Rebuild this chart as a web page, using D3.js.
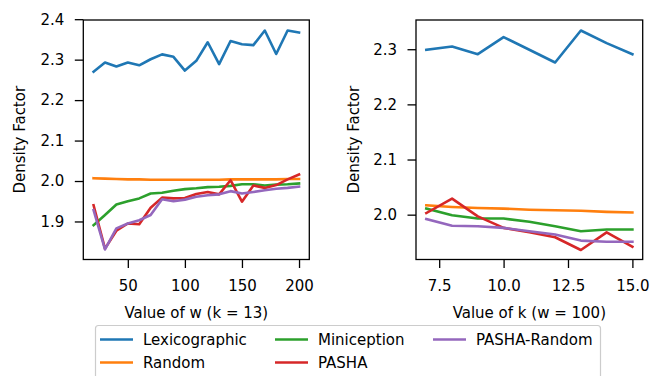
<!DOCTYPE html>
<html>
<head>
<meta charset="utf-8">
<script src="https://cdn.jsdelivr.net/npm/d3@7"></script>
<style>
body { margin: 0; background: #fff; }
svg { font-family: "DejaVu Sans", sans-serif; }
</style>
</head>
<body>
<svg id="chart" width="654" height="376"></svg>
<script>
// ---- data ----
const seriesNames = ["Lexicographic", "Random", "Miniception", "PASHA", "PASHA-Random"];
const colors = ["#1f77b4", "#ff7f0e", "#2ca02c", "#d62728", "#9467bd"];

const wValues = [20, 30, 40, 50, 60, 70, 80, 90, 100, 110, 120, 130, 140, 150, 160, 170, 180, 190, 200];
const wLexicographic = [2.270, 2.293, 2.283, 2.293, 2.286, 2.301, 2.313, 2.307, 2.273, 2.297, 2.343, 2.289, 2.346, 2.338, 2.336, 2.372, 2.314, 2.372, 2.367];
const wRandom = [2.007, 2.006, 2.005, 2.004, 2.004, 2.003, 2.003, 2.003, 2.003, 2.003, 2.003, 2.003, 2.004, 2.004, 2.004, 2.004, 2.004, 2.005, 2.005];
const wMiniception = [1.891, 1.916, 1.942, 1.950, 1.957, 1.969, 1.971, 1.976, 1.980, 1.982, 1.985, 1.986, 1.988, 1.992, 1.992, 1.989, 1.991, 1.992, 1.994];
const wPASHA = [1.940, 1.833, 1.877, 1.895, 1.893, 1.934, 1.959, 1.957, 1.958, 1.968, 1.973, 1.967, 2.002, 1.949, 1.989, 1.983, 1.990, 2.004, 2.016];
const wPASHARandom = [1.928, 1.831, 1.883, 1.895, 1.903, 1.916, 1.955, 1.950, 1.954, 1.961, 1.965, 1.967, 1.975, 1.969, 1.973, 1.977, 1.981, 1.983, 1.986];

const kValues = [7, 8, 9, 10, 11, 12, 13, 14, 15];
const kLexicographic = [2.299, 2.305, 2.291, 2.322, 2.299, 2.276, 2.334, 2.311, 2.291];
const kRandom = [2.017, 2.014, 2.012, 2.011, 2.009, 2.008, 2.007, 2.005, 2.004];
const kMiniception = [2.011, 1.999, 1.993, 1.993, 1.987, 1.979, 1.970, 1.973, 1.973];
const kPASHA = [2.003, 2.029, 1.997, 1.976, 1.968, 1.959, 1.936, 1.968, 1.942];
const kPASHARandom = [1.992, 1.980, 1.979, 1.976, 1.970, 1.964, 1.953, 1.951, 1.951];

const wTicks = [50, 100, 150, 200];
const wYTicks = [1.9, 2.0, 2.1, 2.2, 2.3, 2.4];
const kTicks = [7.5, 10.0, 12.5, 15.0];
const kYTicks = [2.0, 2.1, 2.2, 2.3];

// ---- drawing ----
const svg = d3.select("#chart");
const FS = 15;

function panel(cfg) {
  const x = d3.scaleLinear().domain(cfg.xDomain).range([cfg.left, cfg.right]);
  const y = d3.scaleLinear().domain(cfg.yDomain).range([cfg.bottom, cfg.top]);
  const g = svg.append("g");

  const clipId = "clip" + cfg.id;
  svg.append("clipPath").attr("id", clipId).append("rect")
    .attr("x", cfg.left).attr("y", cfg.top)
    .attr("width", cfg.right - cfg.left).attr("height", cfg.bottom - cfg.top);

  const line = d3.line().x((d, i) => x(cfg.xs[i])).y(d => y(d));
  const lines = g.append("g").attr("clip-path", `url(#${clipId})`);
  cfg.series.forEach((s, i) => {
    lines.append("path").datum(s)
      .attr("d", line)
      .attr("fill", "none")
      .attr("stroke", colors[i])
      .attr("stroke-width", 2.6)
      .attr("stroke-linejoin", "round")
      .attr("stroke-linecap", "square");
  });

  // axes
  const xAxis = d3.axisBottom(x).tickValues(cfg.xTicks).tickSize(8.5).tickPadding(12)
    .tickFormat(cfg.xFmt);
  const gx = g.append("g").attr("transform", `translate(0,${cfg.bottom})`).call(xAxis);
  const yAxis = d3.axisLeft(y).tickValues(cfg.yTicks).tickSize(8.5).tickPadding(10.5)
    .tickFormat(d3.format(".1f"));
  const gy = g.append("g").attr("transform", `translate(${cfg.left},0)`).call(yAxis);
  [gx, gy].forEach(a => {
    a.select(".domain").remove();
    a.selectAll(".tick line").attr("stroke", "#000").attr("stroke-width", 1.3);
    a.selectAll(".tick text").attr("fill", "#000").style("font-size", FS + "px")
      .style("font-family", "DejaVu Sans");
  });

  // frame
  g.append("rect")
    .attr("x", cfg.left).attr("y", cfg.top)
    .attr("width", cfg.right - cfg.left).attr("height", cfg.bottom - cfg.top)
    .attr("fill", "none").attr("stroke", "#000").attr("stroke-width", 1.3);

  // labels
  g.append("text")
    .attr("x", (cfg.left + cfg.right) / 2).attr("y", 318)
    .attr("text-anchor", "middle").style("font-size", FS + "px")
    .text(cfg.xLabel);
  g.append("text")
    .attr("transform", `translate(${cfg.yLabelX},${(cfg.top + cfg.bottom) / 2}) rotate(-90)`)
    .attr("text-anchor", "middle").style("font-size", FS + "px")
    .text("Density Factor");
}

panel({
  id: "w", left: 83.3, right: 309.3, top: 20, bottom: 259.5,
  xDomain: [11, 209], yDomain: [1.806, 2.398],
  xs: wValues, series: [wLexicographic, wRandom, wMiniception, wPASHA, wPASHARandom],
  xTicks: wTicks, yTicks: wYTicks, xFmt: d3.format("d"),
  xLabel: "Value of w (k = 13)", yLabelX: 25
});

panel({
  id: "k", left: 416, right: 642.7, top: 20, bottom: 259.5,
  xDomain: [6.6, 15.4], yDomain: [1.9187, 2.353],
  xs: kValues, series: [kLexicographic, kRandom, kMiniception, kPASHA, kPASHARandom],
  xTicks: kTicks, yTicks: kYTicks, xFmt: d3.format(".1f"),
  xLabel: "Value of k (w = 100)", yLabelX: 359
});

// legend
const leg = svg.append("g");
leg.append("rect")
  .attr("x", 95.5).attr("y", 325.5).attr("width", 505).attr("height", 60)
  .attr("rx", 3).attr("fill", "#fff").attr("stroke", "#cccccc").attr("stroke-width", 1.2);
const colX = [100, 275, 433];
const rowY = [339.5, 362.5];
seriesNames.forEach((name, idx) => {
  const col = Math.floor(idx / 2), row = idx % 2;
  const lx = colX[col], ly = rowY[row];
  leg.append("line").attr("x1", lx).attr("x2", lx + 33).attr("y1", ly).attr("y2", ly)
    .attr("stroke", colors[idx]).attr("stroke-width", 2.6);
  leg.append("text").attr("x", lx + 43).attr("y", ly).attr("dy", "0.35em")
    .style("font-size", FS + "px").text(name);
});
</script>
</body>
</html>
